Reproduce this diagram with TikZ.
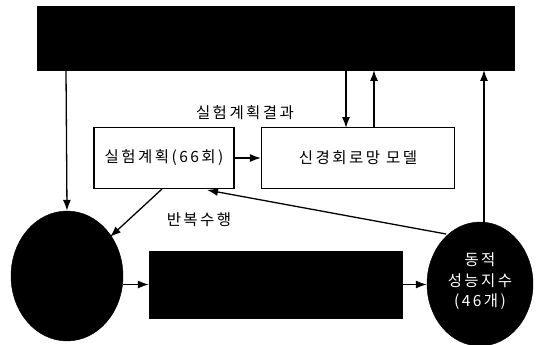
\documentclass[tikz,border=0pt]{standalone}
\usepackage{fontspec}
\setmainfont{Noto Sans CJK KR}
\newfontfamily\krfont[LetterSpace=16]{Noto Sans CJK KR}
\usetikzlibrary{arrows.meta,shapes.geometric}
\begin{document}
\begin{tikzpicture}[x=1pt,y=-1pt,
  lbl/.style={font=\krfont\fontsize{15.5}{17}\selectfont, inner sep=0pt},
  wbox/.style={draw, line width=1.2pt, fill=white, inner sep=0pt},
  bbox/.style={draw, fill=black, inner sep=0pt},
  bell/.style={ellipse, draw, fill=black, inner sep=0pt},
  arr/.style={-{Latex[length=11pt,width=8pt]}, line width=1.3pt}]
\useasboundingbox (0,0) rectangle (541,345);
% nodes
\node[bbox, minimum width=477pt, minimum height=64pt] (top) at (275.5,38) {};
\node[wbox, minimum width=140pt, minimum height=61pt] (plan) at (164,158) {};
\node[lbl] at (plan.center) {실험계획(66회)};
\node[wbox, minimum width=193pt, minimum height=61pt] (nn) at (358,158) {};
\node[lbl] at (nn.center) {신경회로망 모델};
\node[bell, minimum width=112pt, minimum height=130pt] (leftc) at (67,276) {};
\node[bbox, minimum width=253pt, minimum height=67pt] (mid) at (275.5,284.5) {};
\node[bell, minimum width=106pt, minimum height=124pt] (rightc) at (480,284) {};
\node[lbl, text=white] (t1) at (480,260) {동적};
\node[lbl, text=white] (t2) at (480,281) {성능지수};
\node[lbl, text=white] (t3) at (480,302) {(46개)};
\node[lbl] (l1) at (245,113) {실험계획결과};
\node[lbl] (l2) at (199,220) {반복수행};
% coordinates
\coordinate (a1) at (66,70);
\coordinate (b1) at (346,70);
\coordinate (b2) at (346,128);
\coordinate (c1) at (374,128);
\coordinate (c2) at (374,70);
\coordinate (d1) at (484,223);
\coordinate (d2) at (484,70);
\coordinate (e1) at (162,189);
\coordinate (e2) at (110,237);
\coordinate (f1) at (446,234);
\coordinate (f2) at (207,190);
% connectors
\draw[arr] (a1) -- (leftc.north);
\draw[arr] (b1) -- (b2);
\draw[arr] (c1) -- (c2);
\draw[arr] (d1) -- (d2);
\draw[arr] (plan.east) -- (nn.west);
\draw[arr] (e1) -- (e2);
\draw[arr] (f1) -- (f2);
\draw[arr] (leftc.east |- mid.west) -- (mid.west);
\draw[arr] (mid.east) -- (rightc.west |- mid.east);
\end{tikzpicture}
\end{document}
